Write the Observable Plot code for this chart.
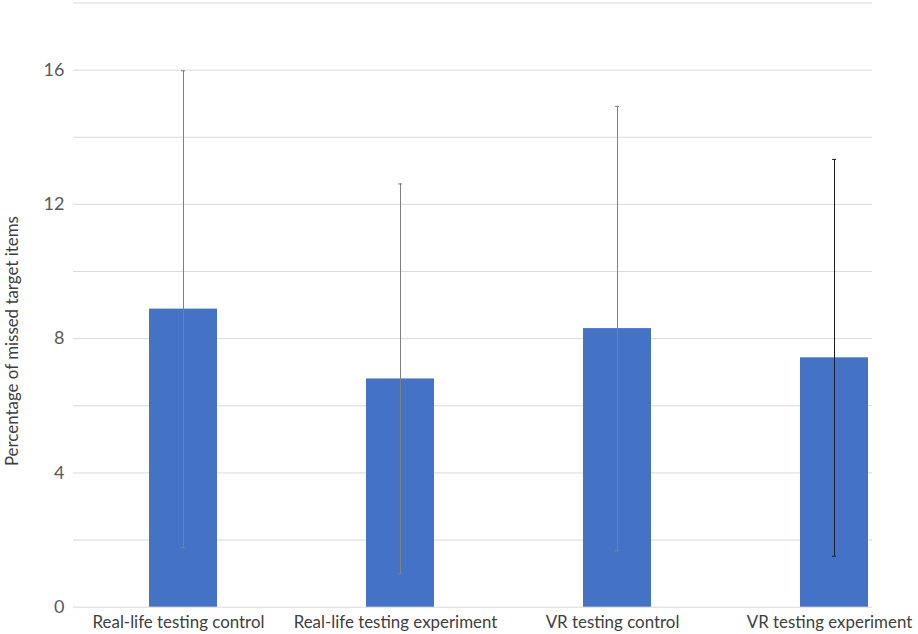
<!DOCTYPE html>
<html>
<head>
<meta charset="utf-8">
<script src="https://cdn.jsdelivr.net/npm/d3@7"></script>
<script src="https://cdn.jsdelivr.net/npm/@observablehq/plot@0.6"></script>
<style>
  html, body { margin: 0; padding: 0; background: white; }
</style>
</head>
<body>
<div id="chart"></div>
<script>
const categories = [
  "Real-life testing control",
  "Real-life testing experiment",
  "VR testing control",
  "VR testing experiment"
];
const means = [8.88, 6.80, 8.30, 7.43];
const sds = [7.10, 5.81, 6.62, 5.91];
const yTickLabels = [0, 4, 8, 12, 16];
const yGridValues = [0, 2, 4, 6, 8, 10, 12, 14, 16, 18];
const yLabel = "Percentage of missed target items";

const data = categories.map((c, i) => ({
  category: c,
  mean: means[i],
  lo: means[i] - sds[i],
  hi: means[i] + sds[i],
  idx: i
}));

const errStroke = d => d.idx === 3 ? "#1c1c2c" : "#7f7f7f";

const chart = Plot.plot({
  width: 918,
  height: 634,
  marginLeft: 73,
  marginRight: 46,
  marginTop: 2.5,
  marginBottom: 27.3,
  style: { fontFamily: "Lato, 'Open Sans', sans-serif", background: "white" },
  x: { domain: categories, paddingInner: 0.687, paddingOuter: 0.181, align: 0.953, label: null },
  y: { domain: [0, 18], label: null },
  color: { type: "identity" },
  marks: [
    Plot.gridY(yGridValues, { stroke: "#d9d9d9", strokeOpacity: 1, strokeWidth: 1 }),
    Plot.axisY(yTickLabels, { tickSize: 0, tickPadding: 9, fontSize: 18, fill: "#595959", label: null }),
    Plot.axisX({ tickSize: 0, tickPadding: 9, dx: -5, fontSize: 16.9, fill: "#404040", label: null }),
    Plot.barY(data, { x: "category", y: "mean", fill: "#4472c4" }),
    Plot.ruleX(data, { x: "category", y1: "lo", y2: "hi", stroke: errStroke, strokeWidth: 1 }),
    Plot.tickY(data, { x: "category", y: "hi", insetLeft: 32, insetRight: 32, stroke: errStroke, strokeWidth: 1 }),
    Plot.tickY(data, { x: "category", y: "lo", insetLeft: 32, insetRight: 32, stroke: errStroke, strokeWidth: 1 }),
    Plot.text([yLabel], { text: d => d, frameAnchor: "left", textAnchor: "middle", rotate: -90, dx: -61, dy: 36, fontSize: 16.9, fill: "#404040" })
  ]
});
document.getElementById("chart").appendChild(chart);
</script>
</body>
</html>
